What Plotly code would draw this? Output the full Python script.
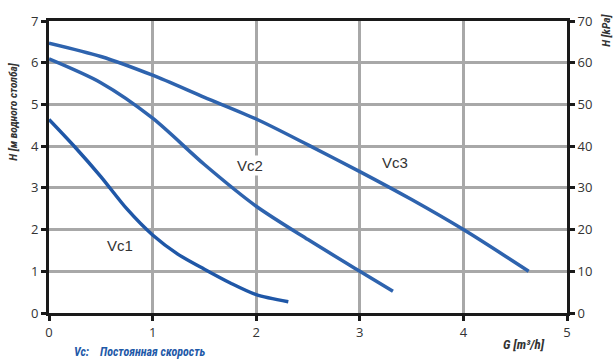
import plotly.graph_objects as go

# Pump curves: flow G [m3/h] vs head H [m water column]
vc1_g = [0.0, 0.25, 0.5, 0.75, 1.0, 1.25, 1.5, 1.75, 2.0, 2.31]
vc1_h = [4.64, 3.98, 3.27, 2.5, 1.87, 1.4, 1.05, 0.72, 0.44, 0.27]

vc2_g = [0.0, 0.5, 1.0, 1.5, 2.0, 2.5, 3.0, 3.32]
vc2_h = [6.09, 5.52, 4.67, 3.56, 2.56, 1.76, 1.0, 0.52]

vc3_g = [0.0, 0.5, 1.0, 1.5, 2.0, 2.5, 3.0, 3.5, 4.0, 4.63]
vc3_h = [6.47, 6.15, 5.7, 5.17, 4.65, 4.03, 3.39, 2.72, 2.0, 1.0]

x_ticks = [0, 1, 2, 3, 4, 5]
h_ticks = [0, 1, 2, 3, 4, 5, 6, 7]
kpa_ticks = [0, 10, 20, 30, 40, 50, 60, 70]

curve_labels = ["Vc1", "Vc2", "Vc3"]
label_g = [0.69, 1.94, 3.34]
label_h = [1.61, 3.53, 3.6]

W, H = 615, 361
L, R, T, B = 49, 48, 17, 48
pw, ph = W - L - R, H - T - B


def px(xp):
    return (xp - L) / pw


def py(yp):
    return (H - B - yp) / ph


fig = go.Figure()
for g, h, col in [(vc1_g, vc1_h, "#1f57a7"), (vc2_g, vc2_h, "#2e63ae"), (vc3_g, vc3_h, "#2e63ae")]:
    fig.add_trace(go.Scatter(x=g, y=h, mode="lines",
                             line=dict(color=col, width=3.5, shape="spline", smoothing=0.8),
                             hoverinfo="skip", showlegend=False))

# kPa axis carrier trace
fig.add_trace(go.Scatter(x=[0, 5], y=[0, 70], yaxis="y2", mode="lines",
                         line=dict(width=0), hoverinfo="skip", showlegend=False))

for name, g, h in zip(curve_labels, label_g, label_h):
    fig.add_annotation(x=g, y=h, text=name, showarrow=False,
                       font=dict(family="Liberation Sans, Arial", size=15, color="#333333"),
                       bgcolor="white" if name == "Vc2" else None, borderpad=1)

tickfont = dict(family="Open Sans, Noto Sans", size=13, color="#333333")
title_font = dict(family="Liberation Sans Narrow, Roboto Condensed, Liberation Sans", size=11, color="#333333")


def paper_text(xp, yp, text, size, angle=0, color="#333333"):
    fig.add_annotation(xref="paper", yref="paper", x=px(xp), y=py(yp), text=text,
                       xanchor="center", yanchor="middle", textangle=angle, showarrow=False,
                       borderpad=0, font=dict(title_font, size=size, color=color))


paper_text(13, 109, "<b><i>H [м водного столба]</i></b>", 11.5, angle=-90)
paper_text(606, 27, "<b><i>H [kPa]</i></b>", 11.5, angle=-90)
paper_text(524, 345, "<b><i>G [m³/h]</i></b>", 13)
paper_text(139, 353, "<b><i>Vc:    Постоянная скорость</i></b>", 12, color="#1f5aa8")

fig.update_layout(
    width=W, height=H, margin=dict(l=L, r=R, t=T, b=B),
    paper_bgcolor="white", plot_bgcolor="white",
    xaxis=dict(range=[0, 5], tickvals=x_ticks, showgrid=True, gridcolor="#a8a8a8", gridwidth=2.5,
               showline=True, linecolor="#1a1a1a", linewidth=3, mirror=True,
               ticks="outside", ticklen=5, tickwidth=3, tickcolor="#1a1a1a",
               tickfont=tickfont, zeroline=False),
    yaxis=dict(range=[0, 7], tickvals=h_ticks, showgrid=True, gridcolor="#a8a8a8", gridwidth=2.5,
               showline=True, linecolor="#1a1a1a", linewidth=3,
               ticks="outside", ticklen=5, tickwidth=3, tickcolor="#1a1a1a",
               tickfont=tickfont, zeroline=False),
    yaxis2=dict(range=[0, 70], tickvals=kpa_ticks, overlaying="y", side="right", showgrid=False,
                showline=True, linecolor="#1a1a1a", linewidth=3,
                ticks="outside", ticklen=5, tickwidth=3, tickcolor="#1a1a1a",
                tickfont=tickfont, zeroline=False),
)

fig.write_html("out.html")
